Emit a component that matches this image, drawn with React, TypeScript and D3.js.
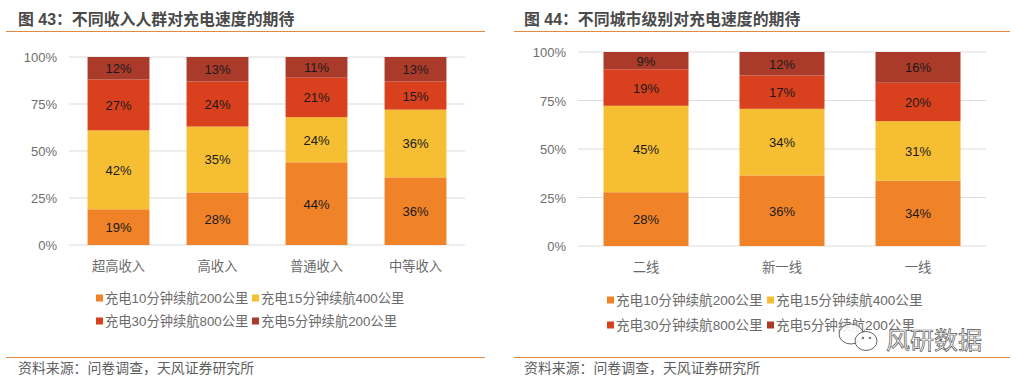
import React from "react";
import * as d3 from "d3";

const seriesNames = ["充电10分钟续航200公里", "充电15分钟续航400公里", "充电30分钟续航800公里", "充电5分钟续航200公里"];
const colors = ["#F08328", "#F6BE33", "#D9401E", "#AA3A2A"];
const leftCats = ["超高收入", "高收入", "普通收入", "中等收入"];
const leftS1 = [19, 28, 44, 36];
const leftS2 = [42, 35, 24, 36];
const leftS3 = [27, 24, 21, 15];
const leftS4 = [12, 13, 11, 13];
const rightCats = ["二线", "新一线", "一线"];
const rightS1 = [28, 36, 34];
const rightS2 = [45, 34, 31];
const rightS3 = [19, 17, 20];
const rightS4 = [9, 12, 16];
const ticks = [0, 0.25, 0.5, 0.75, 1];
const FONT = "'Liberation Sans','Noto Sans CJK SC',sans-serif";

type PanelProps = {
  title: string; source: string; cats: string[]; series: number[][];
  lineX: [number, number]; textX: number; plotX: [number, number]; plotY: [number, number];
  padding: number; legendSwatch: [number, number]; legendRows: [number, number];
  catY: number; titleY: number; legendSize: number;
};

function Panel(p: PanelProps) {
  const rows = p.cats.map((c, i) => {
    const r: Record<string, number> = {};
    p.series.forEach((s, k) => (r[String(k)] = s[i]));
    return r;
  });
  const stack = d3.stack<Record<string, number>>().keys(p.series.map((_, k) => String(k))).offset(d3.stackOffsetExpand);
  const layers = stack(rows);
  const x = d3.scaleBand<string>().domain(p.cats).range(p.plotX).paddingInner(p.padding).paddingOuter(p.padding / 2);
  const y = d3.scaleLinear().domain([0, 1]).range(p.plotY);
  const fmt = d3.format(".0%");
  return (
    <g fontFamily={FONT}>
      <text x={p.textX} y={p.titleY} fontSize={15.9} fontWeight={700} fill="#4a4a4a">{p.title}</text>
      <line x1={p.lineX[0]} x2={p.lineX[1]} y1={31.5} y2={31.5} stroke="#E08A46" strokeWidth={1} />
      {ticks.map((t) => (
        <g key={t}>
          <line x1={p.plotX[0]} x2={p.plotX[1]} y1={y(t)} y2={y(t)} stroke="#DCDCDC" strokeWidth={1.2} />
          <text x={p.plotX[0] - 12} y={y(t) + 5} fontSize={13} textAnchor="end" fill="#6e6e6e">{fmt(t)}</text>
        </g>
      ))}
      {layers.map((l, k) => (
        <g key={k}>
          {l.map((d, i) => (
            <g key={i}>
              <rect x={x(p.cats[i])} width={x.bandwidth()} y={y(d[1])} height={y(d[0]) - y(d[1])} fill={colors[k]} />
              <text x={x(p.cats[i])! + x.bandwidth() / 2} y={(y(d[0]) + y(d[1])) / 2 + 5} fontSize={13} textAnchor="middle" fill="#1a1a1a">
                {p.series[k][i]}%
              </text>
            </g>
          ))}
        </g>
      ))}
      {p.cats.map((c) => (
        <text key={c} x={x(c)! + x.bandwidth() / 2} y={p.catY} fontSize={13.3} textAnchor="middle" fill="#6a6a6a">{c}</text>
      ))}
      {seriesNames.map((n, k) => {
        const sx = p.legendSwatch[k % 2];
        const ly = p.legendRows[k < 2 ? 0 : 1];
        return (
          <g key={n}>
            <rect x={sx} y={ly - 3.5} width={7} height={7} fill={colors[k]} />
            <text x={sx + 9} y={ly + 5} fontSize={p.legendSize} fill="#6a6a6a">{n}</text>
          </g>
        );
      })}
      <line x1={p.lineX[0]} x2={p.lineX[1]} y1={357.5} y2={357.5} stroke="#E08A46" strokeWidth={1} />
      <text x={p.textX} y={373} fontSize={13.9} fill="#5e5e5e">{p.source}</text>
    </g>
  );
}

export default function App() {
  return (
    <svg width={1017} height={383} style={{ position: "absolute", left: 0, top: 0, background: "#fff" }}>
      <Panel title="图 43：不同收入人群对充电速度的期待" source="资料来源：问卷调查，天风证券研究所"
        cats={leftCats} series={[leftS1, leftS2, leftS3, leftS4]}
        lineX={[6, 485]} textX={18} plotX={[69, 465]} plotY={[245, 57]} padding={0.375}
        legendSwatch={[96, 252]} legendRows={[298, 321]} catY={271} titleY={25} legendSize={13.3} />
      <Panel title="图 44：不同城市级别对充电速度的期待" source="资料来源：问卷调查，天风证券研究所"
        cats={rightCats} series={[rightS1, rightS2, rightS3, rightS4]}
        lineX={[514, 1010]} textX={524} plotX={[578, 986]} plotY={[246, 52]} padding={0.375}
        legendSwatch={[607, 767]} legendRows={[300, 325]} catY={272} titleY={25} legendSize={13.6} />
      <g fill="rgba(255,255,255,0.85)" stroke="#666" strokeWidth={1}>
        <ellipse cx={851} cy={334} rx={12} ry={10} />
        <ellipse cx={866} cy={341} rx={11} ry={9.5} />
        <circle cx={863} cy={338} r={0.8} fill="#666" />
        <circle cx={870} cy={338} r={0.8} fill="#666" />
      </g>
      <text x={886} y={349} fontSize={24} fontFamily={FONT} fill="#fff" stroke="#555" strokeWidth={0.7}>风研数据</text>
    </svg>
  );
}
